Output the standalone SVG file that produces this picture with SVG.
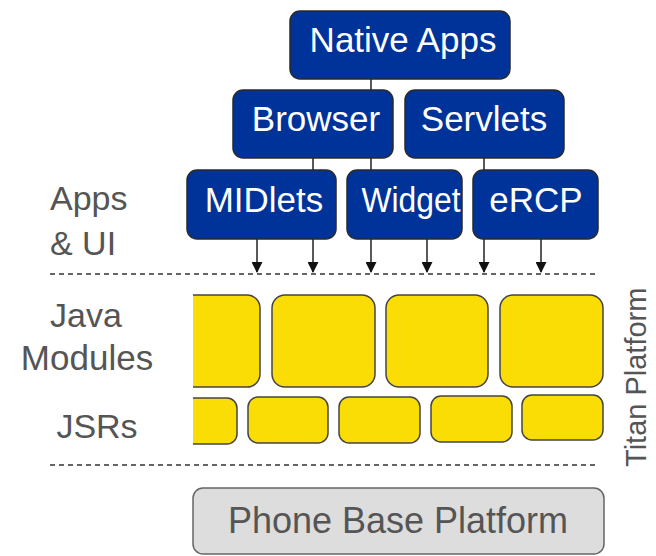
<svg xmlns="http://www.w3.org/2000/svg" width="656" height="556" viewBox="0 0 656 556">
<style>
.blue{fill:#003399;stroke:#2a2a2a;stroke-width:1.5}
.bt{font-family:"Liberation Sans",Arial,sans-serif;font-size:35px;fill:#ffffff;text-anchor:middle}
.lbl{font-family:"Liberation Sans",Arial,sans-serif;font-size:34px;fill:#555555}
.yel{fill:#FADD05;stroke:#444;stroke-width:1.5}
.conn{stroke:#222;stroke-width:1.5;fill:none}
.dash{stroke:#333;stroke-width:1.5;stroke-dasharray:5,4;fill:none}
</style>
<defs>
<marker id="ah" markerWidth="11" markerHeight="11" refX="10" refY="5.5" orient="auto" markerUnits="userSpaceOnUse">
<path d="M0,0 L11,5.5 L0,11 Z" fill="#111"/>
</marker>
<clipPath id="clipL"><rect x="193" y="0" width="463" height="556"/></clipPath>
</defs>
<rect width="656" height="556" fill="#ffffff"/>
<g id="connectors">
<line class="conn" x1="371" y1="79" x2="371" y2="90"/>
<line class="conn" x1="313" y1="158" x2="313" y2="170"/>
<line class="conn" x1="371" y1="158" x2="371" y2="170"/>
<line class="conn" x1="484" y1="158" x2="484" y2="170"/>
<line class="conn" x1="257" y1="239" x2="257" y2="272" marker-end="url(#ah)"/>
<line class="conn" x1="313" y1="239" x2="313" y2="272" marker-end="url(#ah)"/>
<line class="conn" x1="371" y1="239" x2="371" y2="272" marker-end="url(#ah)"/>
<line class="conn" x1="427" y1="239" x2="427" y2="272" marker-end="url(#ah)"/>
<line class="conn" x1="484" y1="239" x2="484" y2="272" marker-end="url(#ah)"/>
<line class="conn" x1="541" y1="239" x2="541" y2="272" marker-end="url(#ah)"/>
</g>
<g id="dividers">
<line class="dash" x1="50" y1="274" x2="596" y2="274"/>
<line class="dash" x1="50" y1="465" x2="596" y2="465"/>
</g>
<g id="native-apps"><rect class="blue" x="290" y="11" width="220" height="68" rx="10"/><text class="bt" x="403" y="52">Native Apps</text></g>
<g id="browser"><rect class="blue" x="233" y="90" width="160" height="68" rx="10"/><text class="bt" x="316" y="131">Browser</text></g>
<g id="servlets"><rect class="blue" x="405" y="90" width="159" height="68" rx="10"/><text class="bt" x="484" y="131">Servlets</text></g>
<g id="midlets"><rect class="blue" x="187" y="170" width="149" height="69" rx="10"/><text class="bt" x="264" y="212">MIDlets</text></g>
<g id="widget"><rect class="blue" x="347" y="170" width="115" height="69" rx="10"/><text class="bt" x="411" y="212" textLength="99" lengthAdjust="spacingAndGlyphs">Widget</text></g>
<g id="ercp"><rect class="blue" x="473" y="170" width="125" height="69" rx="10"/><text class="bt" x="536" y="212">eRCP</text></g>
<g id="java-modules" clip-path="url(#clipL)">
<rect class="yel" x="170" y="295" width="90" height="92" rx="13"/>
<rect class="yel" x="272" y="295" width="103" height="92" rx="13"/>
<rect class="yel" x="386" y="295" width="102" height="92" rx="13"/>
<rect class="yel" x="500" y="295" width="103" height="92" rx="13"/>
</g>
<g id="jsrs" clip-path="url(#clipL)">
<rect class="yel" x="170" y="398" width="67" height="46" rx="10"/>
<rect class="yel" x="248" y="397" width="80" height="46" rx="10"/>
<rect class="yel" x="339" y="397" width="81" height="46" rx="10"/>
<rect class="yel" x="431" y="396" width="81" height="46" rx="10"/>
<rect class="yel" x="522" y="395" width="81" height="45" rx="10"/>
</g>
<g id="phone-base"><rect x="193" y="488" width="411" height="66" rx="10" fill="#DDDDDD" stroke="#666" stroke-width="1.5"/><text x="398" y="533" font-family="Liberation Sans, Arial, sans-serif" font-size="36" fill="#555555" text-anchor="middle">Phone Base Platform</text></g>
<g id="labels">
<text class="lbl" x="50" y="210">Apps</text>
<text class="lbl" x="50" y="255">&amp; UI</text>
<text class="lbl" x="86" y="327" text-anchor="middle">Java</text>
<text class="lbl" x="87" y="370" text-anchor="middle" style="font-size:35px">Modules</text>
<text class="lbl" x="97" y="438" text-anchor="middle">JSRs</text>
<text class="lbl" style="font-size:29px" transform="translate(646,467) rotate(-90)">Titan Platform</text>
</g>
</svg>
